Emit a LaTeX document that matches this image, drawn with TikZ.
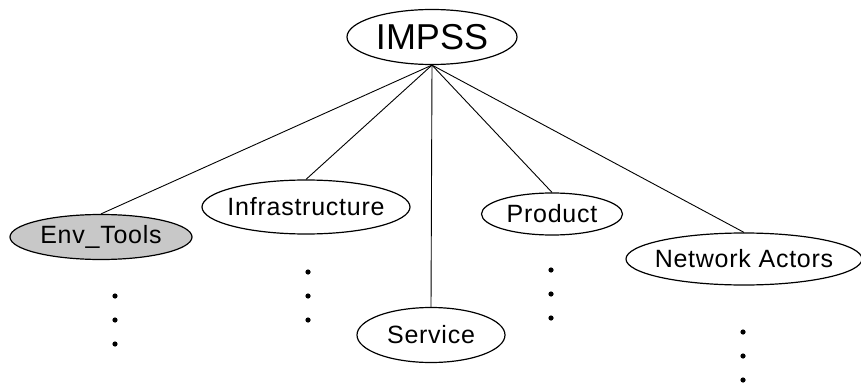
\documentclass[tikz,border=0pt]{standalone}
\usepackage{fontspec}
\setmainfont{Liberation Sans}
\newfontfamily\labelfont[LetterSpace=3]{Liberation Sans}
\usetikzlibrary{shapes.geometric}
\definecolor{envgray}{RGB}{200,200,200}
\newcommand{\conceptlabel}[1]{\makebox[0pt]{#1}}
\tikzset{
  concept/.style={ellipse, draw, line width=1.2pt, inner sep=0pt,
    font=\labelfont\fontsize{25}{28}\selectfont},
  link/.style={line width=0.9pt},
  moredot/.style={fill=black},
}
\begin{document}
\begin{tikzpicture}[x=1pt, y=-1pt]
  \useasboundingbox (0,0) rectangle (861,385);
  % root
  \node[concept, minimum width=170pt, minimum height=55pt,
        font=\fontsize{36}{40}\selectfont] (impss) at (432,37) {\conceptlabel{IMPSS}};
  % children
  \node[concept, fill=envgray, minimum width=182pt, minimum height=45pt] (env) at (101,237) {\conceptlabel{Env\_Tools}};
  \node[concept, minimum width=208pt, minimum height=54pt] (infra) at (306,207) {\conceptlabel{Infrastructure}};
  \node[concept, minimum width=148pt, minimum height=55pt] (service) at (431,335) {\conceptlabel{Service}};
  \node[concept, minimum width=141pt, minimum height=42pt] (product) at (552,214) {\conceptlabel{Product}};
  \node[concept, minimum width=236pt, minimum height=52pt] (actors) at (744,259) {\conceptlabel{Network Actors}};
  % connectors
  \foreach \c in {env, infra, service, product, actors}
    \draw[link] (impss.south) -- (\c.north);
  % continuation dots
  \foreach \x/\ya in {115/296, 308/272, 551/270, 743/332}
    \foreach \k in {0,1,2}
      \fill[moredot] (\x,\ya+\k*24) circle (2.6pt);
\end{tikzpicture}
\end{document}
